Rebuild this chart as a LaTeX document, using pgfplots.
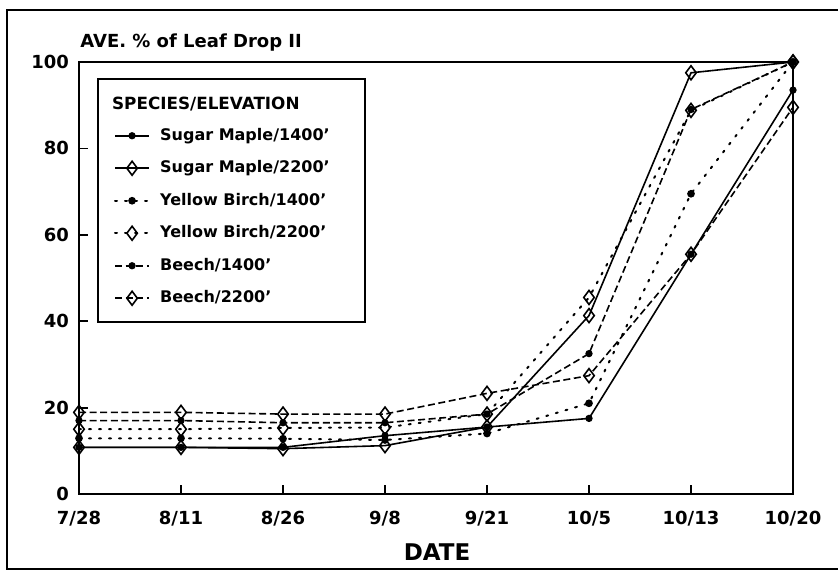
\documentclass[border=0pt]{standalone}
\usepackage{pgfplots}
\pgfplotsset{compat=1.18}
\usepackage{fontspec}
\setmainfont{DejaVu Sans}
\newcommand{\legtxt}[1]{\hspace*{3pt}#1}
\begin{document}
\begin{tikzpicture}
\useasboundingbox (-39.5pt,-43pt) rectangle (379.5pt,247pt);
\draw[line width=1pt] (386pt,242pt) -- (-36pt,242pt) -- (-36pt,-37.5pt) -- (386pt,-37.5pt);
\begin{axis}[
  at={(0pt,0pt)}, anchor=south west,
  width=357pt, height=216pt, scale only axis,
  xmin=0, xmax=7, ymin=0, ymax=100,
  xtick={0,1,2,3,4,5,6,7},
  xticklabels={7/28,8/11,8/26,9/8,9/21,10/5,10/13,10/20},
  ytick={0,20,40,60,80,100},
  tick align=inside, tick pos=left,
  major tick length=4.5pt,
  axis line style={line width=1pt},
  every tick/.style={line width=0.9pt, black},
  ticklabel style={font=\fontsize{9}{11}\selectfont\bfseries},
  /pgf/number format/assume math mode=true,
  xticklabel style={yshift=-5pt},
  yticklabel style={xshift=-1.5pt},
  legend style={at={(rel axis cs:0.0252,0.963)}, anchor=north west,
    draw=black, line width=1pt, inner xsep=8pt, inner ysep=4pt,
    font=\fontsize{8}{9}\selectfont\bfseries, row sep=0pt,
    nodes={minimum height=16.25pt},
    cells={anchor=west}},
  legend cell align=left,
  every axis plot/.append style={black, line width=0.8pt},
]
\addlegendimage{empty legend}
\addlegendentry{\raisebox{-1.2pt}{\hspace*{-21pt}{\fontsize{8.4}{10}\selectfont SPECIES/ELEVATION}\hspace*{22.5pt}}}
\addplot[solid, mark=*, mark size=1.4pt, mark options={solid}] coordinates
  {(0,10.8) (1,10.8) (2,10.8) (3,13.5) (4,15.5) (5,17.5) (6,55.5) (7,93.5)};
\addlegendentry{\legtxt{Sugar Maple/1400'}}
\addplot[solid, mark=diamond, mark size=3.5pt, mark options={solid, line width=0.8pt}] coordinates
  {(0,10.8) (1,10.8) (2,10.5) (3,11.2) (4,15.5) (5,41.3) (6,97.5) (7,100)};
\addlegendentry{\legtxt{Sugar Maple/2200'}}
\addplot[dash pattern=on 1pt off 4pt, line cap=round, line width=1pt, mark=*, mark size=1.4pt, mark options={solid}] coordinates
  {(0,12.9) (1,12.9) (2,12.8) (3,12.5) (4,14) (5,21) (6,69.5) (7,100)};
\addlegendentry{\legtxt{Yellow Birch/1400'}}
\addplot[dash pattern=on 1pt off 4pt, line cap=round, line width=1pt, mark=diamond, mark size=3.5pt, mark options={solid, line width=0.8pt}] coordinates
  {(0,15) (1,15) (2,15.3) (3,15.4) (4,18.5) (5,45.5) (6,88.8) (7,100)};
\addlegendentry{\legtxt{Yellow Birch/2200'}}
\addplot[dash pattern=on 3.5pt off 1.8pt, mark=*, mark size=1.4pt, mark options={solid}] coordinates
  {(0,17) (1,17) (2,16.5) (3,16.5) (4,18.5) (5,32.5) (6,89) (7,100)};
\addlegendentry{\legtxt{Beech/1400'}}
\addplot[dash pattern=on 3.5pt off 1.8pt, mark=diamond, mark size=3.5pt, mark options={solid, line width=0.8pt}] coordinates
  {(0,18.9) (1,18.9) (2,18.5) (3,18.5) (4,23.3) (5,27.4) (6,55.5) (7,89.5)};
\addlegendentry{\legtxt{Beech/2200'}}
\end{axis}
\node[anchor=base west, inner sep=0pt, font=\fontsize{9}{11}\selectfont\bfseries] at (0.5pt,223pt) {AVE. \% of Leaf Drop II};
\node[anchor=base, inner sep=0pt, font=\fontsize{11.5}{13}\selectfont\bfseries] at (179pt,-33pt) {DATE};
\end{tikzpicture}
\end{document}
